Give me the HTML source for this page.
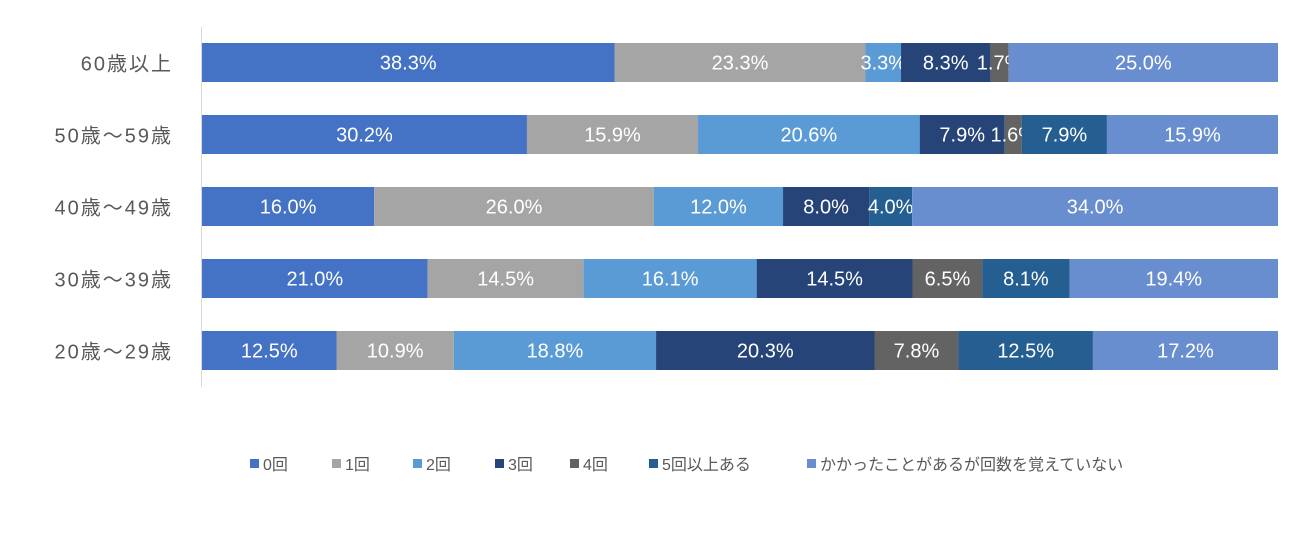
<!DOCTYPE html>
<html><head><meta charset="utf-8"><style>
body{margin:0;width:1309px;height:529px;background:#fff;overflow:hidden;font-family:"Liberation Sans","Noto Sans CJK JP",sans-serif}
svg text{font-family:"Liberation Sans","Noto Sans CJK JP",sans-serif}
</style></head><body>
<svg id="chart" width="1309" height="529" xmlns="http://www.w3.org/2000/svg">
<line x1="201.5" y1="27" x2="201.5" y2="387" stroke="#d9d9d9" stroke-width="1"/>
<g id="bars"></g><g id="ylabels"></g><g id="legend"></g>
</svg>
<script>
const categories = ["60歳以上","50歳～59歳","40歳～49歳","30歳～39歳","20歳～29歳"];
const seriesNames = ["0回","1回","2回","3回","4回","5回以上ある","かかったことがあるが回数を覚えていない"];
const s0 = [38.3,30.2,16.0,21.0,12.5];
const s1 = [23.3,15.9,26.0,14.5,10.9];
const s2 = [3.3,20.6,12.0,16.1,18.8];
const s3 = [8.3,7.9,8.0,14.5,20.3];
const s4 = [1.7,1.6,0,6.5,7.8];
const s5 = [0,7.9,4.0,8.1,12.5];
const s6 = [25.0,15.9,34.0,19.4,17.2];
const series = [s0,s1,s2,s3,s4,s5,s6];
const colors = ["#4472C4","#A5A5A5","#5B9BD5","#264478","#636363","#255E91","#698ED0"];
const NS="http://www.w3.org/2000/svg";
const x0=202, x1=1278, rowTop=43, rowStep=72, barH=39;
const xScale = f => x0 + f*(x1-x0);
const bars=document.getElementById('bars'), yl=document.getElementById('ylabels'), lg=document.getElementById('legend');
categories.forEach((c,i)=>{
  const y=rowTop+i*rowStep;
  const total=series.reduce((a,s)=>a+s[i],0);
  let cum=0;
  series.forEach((s,k)=>{
    const v=s[i]; if(v<=0) return;
    const xa=xScale(cum/total), xb=xScale((cum+v)/total); cum+=v;
    const r=document.createElementNS(NS,'rect');
    
    
    r.setAttribute('x',xa);r.setAttribute('y',y);r.setAttribute('width',xb-xa);r.setAttribute('height',barH);r.setAttribute('fill',colors[k]);
    bars.appendChild(r);
    const t=document.createElementNS(NS,'text');
    
    
    t.setAttribute('x',(xa+xb)/2);t.setAttribute('y',y+barH/2+7);t.setAttribute('text-anchor','middle');
    t.setAttribute('fill','#fff');t.setAttribute('font-size','20');
    t.textContent=v.toFixed(1)+'%';
    bars.appendChild(t);
  });
  const t=document.createElementNS(NS,'text');
  
  
  t.setAttribute('x',173);t.setAttribute('y',y+barH/2+8);t.setAttribute('text-anchor','end');
  t.setAttribute('fill','#595959');t.setAttribute('font-size','20');t.setAttribute('letter-spacing','2');
  t.textContent=c;
  yl.appendChild(t);
});
const legX=[250,332,413,495,570,649,807];
seriesNames.forEach((n,k)=>{
  const r=document.createElementNS(NS,'rect');
  
  
  r.setAttribute('x',legX[k]);r.setAttribute('y',459);r.setAttribute('width',9);r.setAttribute('height',9);r.setAttribute('fill',colors[k]);
  lg.appendChild(r);
  const t=document.createElementNS(NS,'text');
  
  
  t.setAttribute('x',legX[k]+13);t.setAttribute('y',470);t.setAttribute('fill','#595959');t.setAttribute('font-size','16');
  t.textContent=n;
  lg.appendChild(t);
});
</script>
</body></html>
